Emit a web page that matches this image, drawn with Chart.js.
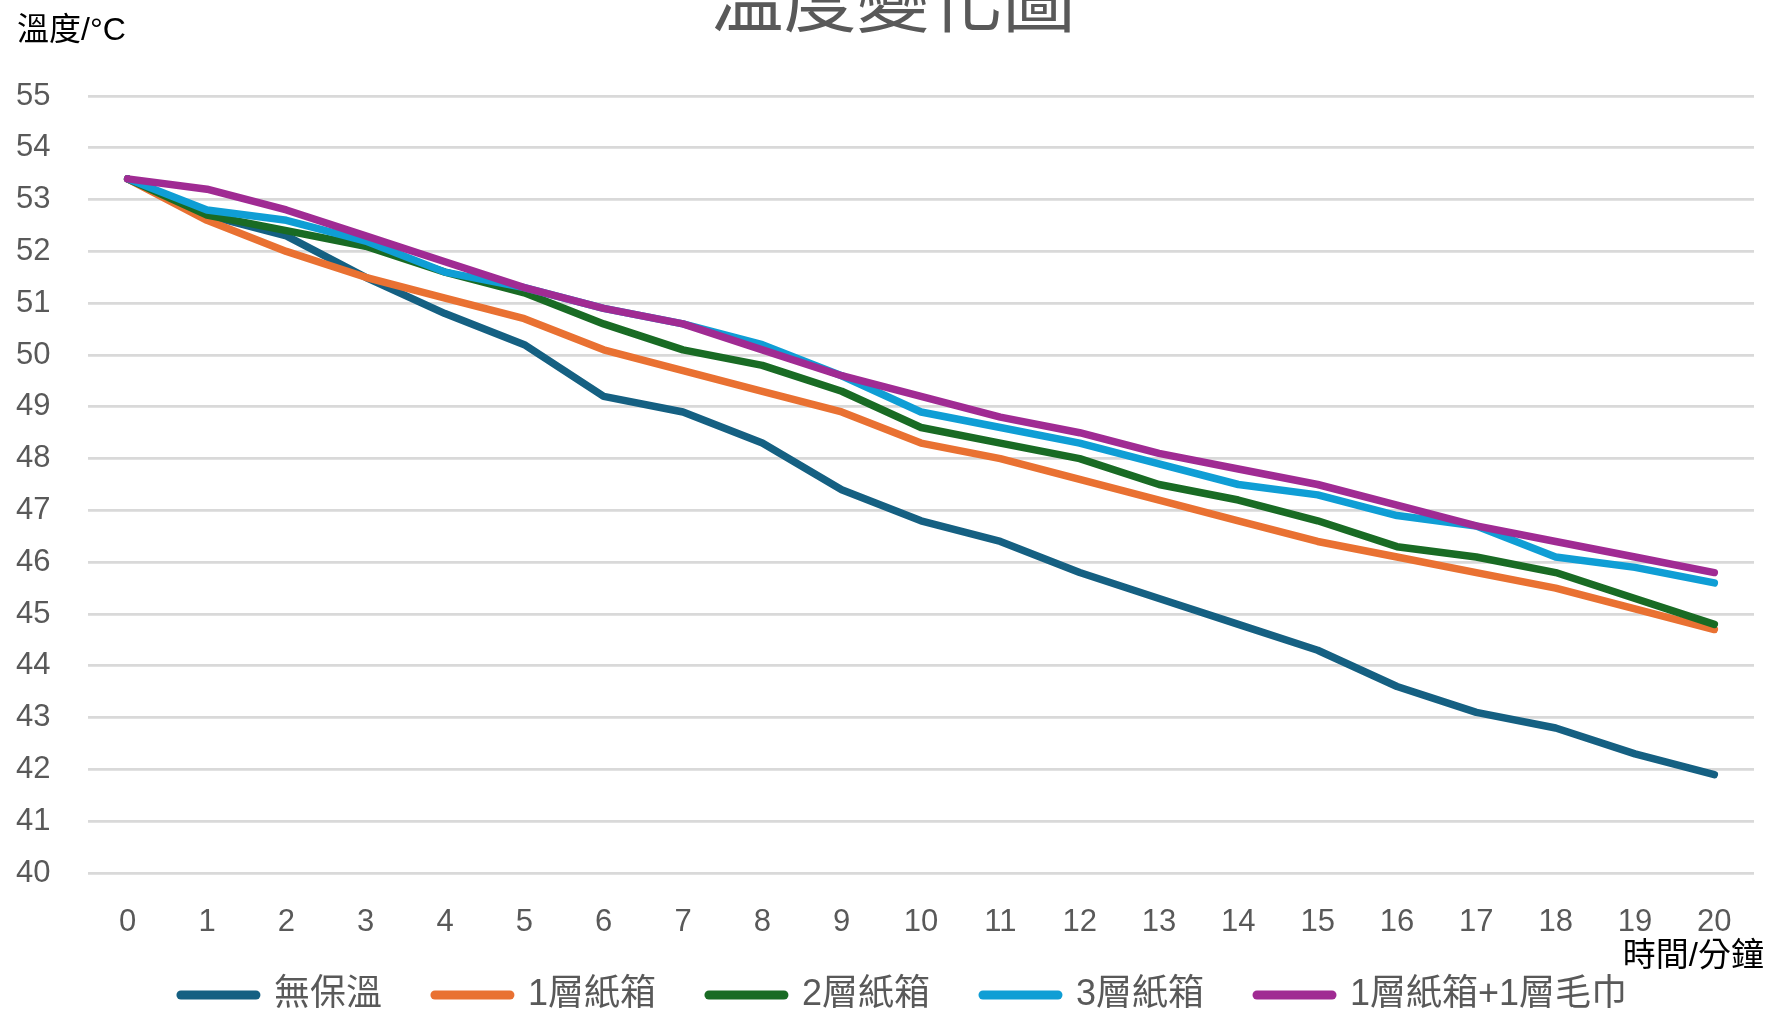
<!DOCTYPE html>
<html>
<head>
<meta charset="utf-8">
<title>溫度變化圖</title>
<script src="https://cdn.jsdelivr.net/npm/chart.js@4/dist/chart.umd.min.js"></script>
<style>
  html, body { margin: 0; padding: 0; background: #ffffff; overflow: hidden; }
  #wrap { position: relative; width: 1769px; height: 1013px; }
</style>
</head>
<body>
<div id="wrap"><canvas id="chart" width="1769" height="1013"></canvas></div>
<script>
// Elapsed time in minutes (category axis)
const minutes = ['0','1','2','3','4','5','6','7','8','9','10','11','12','13','14','15','16','17','18','19','20'];

// Water temperature (°C) for each wrapping condition
const noInsulation = [53.4, 52.7, 52.3, 51.5, 50.8, 50.2, 49.2, 48.9, 48.3, 47.4, 46.8, 46.4, 45.8, 45.3, 44.8, 44.3, 43.6, 43.1, 42.8, 42.3, 41.9];
const oneBox       = [53.4, 52.6, 52.0, 51.5, 51.1, 50.7, 50.1, 49.7, 49.3, 48.9, 48.3, 48.0, 47.6, 47.2, 46.8, 46.4, 46.1, 45.8, 45.5, 45.1, 44.7];
const twoBoxes     = [53.4, 52.7, 52.4, 52.1, 51.6, 51.2, 50.6, 50.1, 49.8, 49.3, 48.6, 48.3, 48.0, 47.5, 47.2, 46.8, 46.3, 46.1, 45.8, 45.3, 44.8];
const threeBoxes   = [53.4, 52.8, 52.6, 52.2, 51.6, 51.3, 50.9, 50.6, 50.2, 49.6, 48.9, 48.6, 48.3, 47.9, 47.5, 47.3, 46.9, 46.7, 46.1, 45.9, 45.6];
const boxAndTowel  = [53.4, 53.2, 52.8, 52.3, 51.8, 51.3, 50.9, 50.6, 50.1, 49.6, 49.2, 48.8, 48.5, 48.1, 47.8, 47.5, 47.1, 46.7, 46.4, 46.1, 45.8];

const seriesNames  = ['無保溫', '1層紙箱', '2層紙箱', '3層紙箱', '1層紙箱+1層毛巾'];
const seriesValues = [noInsulation, oneBox, twoBoxes, threeBoxes, boxAndTowel];
const seriesColors = ['#156082', '#E97132', '#196B24', '#0F9ED5', '#A02B93'];

// Value axis range
const yMin = 40;
const yMax = 55;
const yStep = 1;

// Titles
const chartTitle = '溫度變化圖';
const yAxisTitle = '溫度/°C';
const xAxisTitle = '時間/分鐘';

const FONT = "'Liberation Sans', 'Noto Sans CJK TC', sans-serif";
const GREY = '#595959';

// Draws the chart title and the two axis captions
const captionPlugin = {
  id: 'captions',
  afterLayout(chart) {
    // lift the legend row a little closer to the axis labels
    const lg = chart.legend;
    if (lg) { lg.top -= 19; lg.bottom -= 19; }
  },
  afterDraw(chart) {
    const ctx = chart.ctx;
    const area = chart.chartArea;
    ctx.save();
    ctx.textBaseline = 'alphabetic';

    ctx.fillStyle = GREY;
    ctx.font = '73px ' + FONT;
    ctx.textAlign = 'center';
    ctx.fillText(chartTitle, 893, 26);

    ctx.fillStyle = '#000000';
    ctx.font = '32px ' + FONT;
    ctx.textAlign = 'left';
    ctx.fillText(yAxisTitle, 17, 40);

    ctx.font = '33px ' + FONT;
    ctx.textAlign = 'right';
    ctx.fillText(xAxisTitle, chart.width - 5, area.bottom + 93);
    ctx.restore();
  }
};

const datasets = seriesNames.map((name, i) => ({
  label: name,
  data: seriesValues[i],
  borderColor: seriesColors[i],
  backgroundColor: seriesColors[i],
  borderWidth: 7.5,
  borderCapStyle: 'round',
  borderJoinStyle: 'round',
  pointRadius: 0,
  pointHoverRadius: 0,
  tension: 0,
  fill: false,
  order: seriesNames.length - i
}));

new Chart(document.getElementById('chart'), {
  type: 'line',
  data: { labels: minutes, datasets },
  plugins: [captionPlugin],
  options: {
    responsive: false,
    animation: false,
    devicePixelRatio: 1,
    layout: { padding: { top: 96, left: 54, right: 15, bottom: -29 } },
    plugins: {
      title: { display: false },
      tooltip: { enabled: false },
      legend: {
        display: true,
        position: 'bottom',
        align: 'center',
        labels: {
          usePointStyle: true,
          pointStyleWidth: 75,
          padding: 53,
          color: GREY,
          font: { family: FONT, size: 36 },
          generateLabels(chart) {
            return chart.data.datasets.map((ds, i) => ({
              text: ds.label,
              fillStyle: ds.borderColor,
              strokeStyle: ds.borderColor,
              fontColor: GREY,
              lineWidth: 9,
              lineCap: 'round',
              pointStyle: 'line',
              hidden: false,
              datasetIndex: i
            }));
          }
        }
      }
    },
    scales: {
      x: {
        type: 'category',
        offset: true,
        grid: { display: false, drawTicks: false },
        border: { display: false },
        ticks: {
          color: GREY,
          font: { family: FONT, size: 31, lineHeight: 1.2 },
          padding: 31,
          maxRotation: 0,
          autoSkip: false
        },
        afterFit(scale) { scale.height = 70; }
      },
      y: {
        type: 'linear',
        min: yMin,
        max: yMax,
        grid: { color: '#d9d9d9', lineWidth: 2.7, drawTicks: false },
        border: { display: false },
        ticks: {
          stepSize: yStep,
          color: GREY,
          font: { family: FONT, size: 31 },
          mirror: true,
          padding: -72
        },
        afterFit(scale) { scale.width = 34; }
      }
    }
  }
});
</script>
</body>
</html>
